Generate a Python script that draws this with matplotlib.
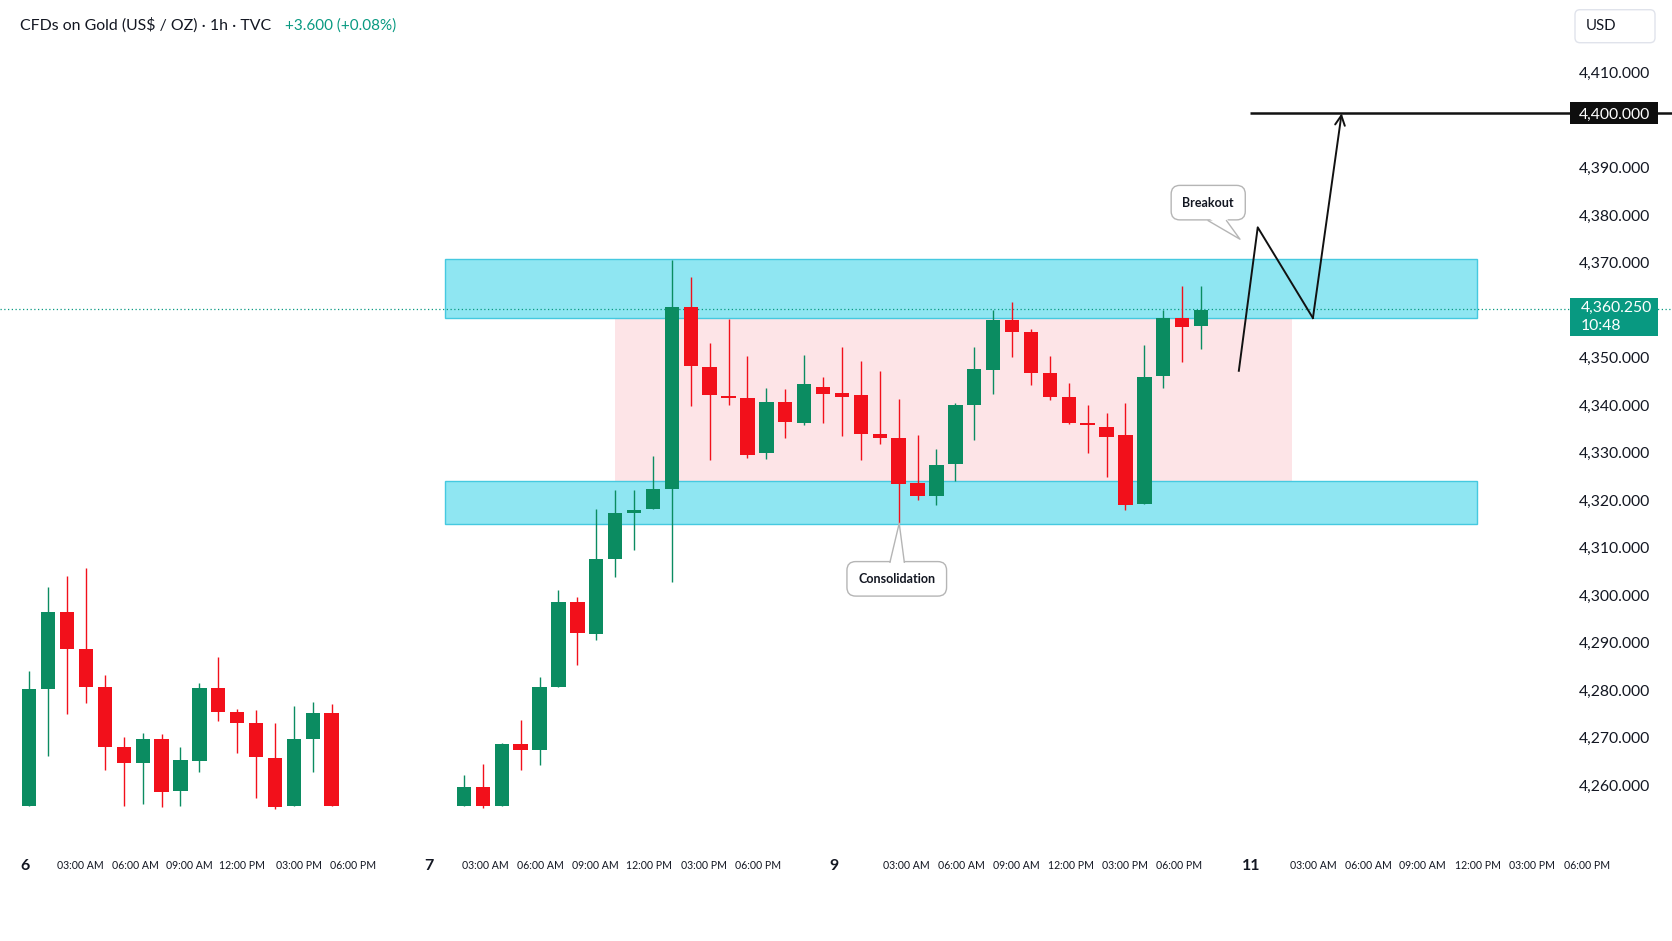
import matplotlib.pyplot as plt
from matplotlib.patches import Rectangle, Polygon, FancyBboxPatch
import matplotlib.transforms as mtransforms

plt.rcParams['font.family'] = ['Lato', 'DejaVu Sans']

# hourly candles (slot index on the time axis, one slot = 1 hour bar)
slots = list(range(0, 17)) + list(range(23, 63))
opens = [4255.6, 4280.2, 4296.5, 4288.6, 4280.7, 4268.0, 4264.6, 4269.7, 4258.7, 4265.1,
         4280.5, 4275.4, 4273.1, 4265.7, 4255.6, 4269.6, 4275.1,
         4255.6, 4259.5, 4255.6, 4268.6, 4267.4, 4280.7, 4298.6, 4291.8, 4307.6, 4317.3,
         4318.0, 4322.4, 4360.7, 4348.0, 4341.8, 4341.4, 4329.8, 4340.6, 4336.3, 4343.8,
         4342.5, 4342.0, 4333.8, 4333.0, 4323.6, 4320.8, 4327.6, 4340.0, 4347.4, 4357.9,
         4355.3, 4346.7, 4341.6, 4336.3, 4335.4, 4333.6, 4319.2, 4346.0, 4358.3, 4356.6]
highs = [4283.9, 4301.6, 4304.0, 4305.7, 4283.1, 4270.0, 4270.9, 4270.7, 4267.9, 4281.4,
         4286.9, 4275.9, 4275.8, 4273.1, 4276.6, 4277.5, 4277.1,
         4262.2, 4264.5, 4268.8, 4273.7, 4282.8, 4301.1, 4299.6, 4318.0, 4322.1, 4322.1,
         4329.3, 4370.5, 4367.0, 4353.1, 4358.2, 4350.4, 4343.5, 4343.3, 4350.5, 4345.8,
         4352.3, 4349.2, 4347.2, 4341.2, 4333.7, 4330.7, 4340.4, 4352.3, 4360.0, 4361.6,
         4356.1, 4350.4, 4344.6, 4339.9, 4338.3, 4340.5, 4352.6, 4360.1, 4365.1, 4365.0]
lows = [4255.6, 4266.0, 4275.0, 4277.2, 4263.2, 4255.6, 4255.9, 4255.3, 4255.6, 4262.8,
        4273.5, 4266.8, 4257.2, 4254.9, 4255.6, 4262.7, 4255.6,
        4255.6, 4255.2, 4255.6, 4263.2, 4264.3, 4280.7, 4285.2, 4290.6, 4303.7, 4309.5,
        4318.0, 4302.7, 4339.8, 4328.4, 4340.1, 4328.8, 4328.6, 4333.0, 4335.7, 4336.3,
        4333.5, 4328.4, 4331.8, 4315.1, 4320.1, 4319.0, 4324.1, 4332.6, 4342.3, 4350.0,
        4344.2, 4341.1, 4336.1, 4329.8, 4324.9, 4317.9, 4319.2, 4343.5, 4349.1, 4351.7]
closes = [4280.2, 4296.5, 4288.6, 4280.7, 4268.0, 4264.6, 4269.6, 4258.5, 4265.2, 4280.5,
          4275.4, 4273.1, 4265.9, 4255.4, 4269.6, 4275.1, 4255.6,
          4259.5, 4255.6, 4268.6, 4267.4, 4280.7, 4298.6, 4292.0, 4307.6, 4317.3, 4317.9,
          4322.4, 4360.7, 4348.2, 4342.0, 4341.4, 4329.4, 4340.6, 4336.4, 4344.4, 4342.4,
          4341.6, 4333.9, 4333.0, 4323.3, 4320.8, 4327.4, 4340.0, 4347.5, 4357.9, 4355.4,
          4346.8, 4341.6, 4336.3, 4335.7, 4333.2, 4319.0, 4345.8, 4358.3, 4356.5, 4360.1]

last_price = 4360.25
target_price = 4401.4
resistance_zone = (4358.4, 4370.7)
support_zone = (4315.0, 4324.0)
zone_span = (22.0, 76.6)
range_span = (31.0, 66.8)
path_x = [64.0, 65.0, 67.92, 69.44]
path_y = [4347.2, 4377.4, 4358.3, 4401.4]

y_ticks = [4260, 4270, 4280, 4290, 4300, 4310, 4320, 4330, 4340, 4350, 4370, 4380, 4390, 4410]
day_pos = [-0.25, 21.13, 42.57, 64.68]
day_labels = ['6', '7', '9', '11']
hour_labels = ['03:00 AM', '06:00 AM', '09:00 AM', '12:00 PM', '03:00 PM', '06:00 PM']
hour_pos = [[2.68, 5.61, 8.49, 11.26, 14.25, 17.13],
            [24.12, 27.05, 29.93, 32.81, 35.69, 38.56],
            [46.41, 49.34, 52.22, 55.10, 57.97, 60.85],
            [67.96, 70.84, 73.71, 76.65, 79.52, 82.45]]

GREEN = '#0b8c61'
RED = '#f2101b'
TEXT = '#131722'

fig = plt.figure(figsize=(16.72, 9.41), dpi=100)
ax = fig.add_axes([0, 101 / 941, 1, 840 / 941])
ax.set_xlim(-1.55, 86.92)
ax.set_ylim(4248.42, 4425.26)
for s in ax.spines.values():
    s.set_visible(False)

# zones
ax.add_patch(Rectangle((range_span[0], support_zone[1]), range_span[1] - range_span[0],
                       resistance_zone[0] - support_zone[1], fc='#fde4e7', ec='none', zorder=1))
for z in (resistance_zone, support_zone):
    ax.add_patch(Rectangle((zone_span[0], z[0]), zone_span[1] - zone_span[0], z[1] - z[0],
                           fc='#8fe6f2', ec='#45c9e0', lw=1.0, zorder=1.5))

# candles
cols = [GREEN if c >= o else RED for o, c in zip(opens, closes)]
bottoms = [min(o, c) for o, c in zip(opens, closes)]
heights = [max(abs(c - o), 0.35) for o, c in zip(opens, closes)]
ax.vlines(slots, lows, highs, colors=cols, lw=1.0, zorder=3)
ax.bar(slots, heights, bottom=bottoms, width=0.76, color=cols, lw=0, zorder=4)

# current price line
ax.axhline(last_price, color='#089981', ls=(0, (1, 2)), lw=0.9, zorder=2)

# projected path and target
ax.hlines(target_price, 64.59, 86.92, color='#111111', lw=1.8, zorder=5)
ax.plot(path_x[:-1], path_y[:-1], color='#111111', lw=1.4, zorder=5)
ax.annotate('', xy=(path_x[-1], path_y[-1]), xytext=(path_x[-2], path_y[-2]),
            arrowprops=dict(arrowstyle='->,head_length=0.7,head_width=0.35', lw=1.4,
                            color='#111111', shrinkA=0, shrinkB=0), zorder=5)


def callout(x, y, text, base, tip):
    ax.text(x, y, text, ha='center', va='center', fontsize=9, fontweight='bold', color=TEXT,
            zorder=7, bbox=dict(boxstyle='round,pad=0.9,rounding_size=0.7', fc='white',
                                ec='#b5b5b5', lw=1.0))
    (bx0, by0), (bx1, by1), dy = base
    ax.add_patch(Polygon([(bx0, by0 - dy), (tip[0], tip[1]), (bx1, by1 - dy)],
                         closed=True, fc='white', ec='none', zorder=8))
    ax.plot([bx0, tip[0], bx1], [by0, tip[1], by1], color='#b5b5b5', lw=1.0, zorder=8)


callout(45.9, 4303.4, 'Consolidation', ((45.54, 4306.9), (46.30, 4306.9), 0.6), (46.03, 4315.1))
callout(62.38, 4382.6, 'Breakout', ((62.38, 4378.8), (63.35, 4378.8), -0.6), (64.06, 4374.9))

# axes ticks
ax.yaxis.tick_right()
ax.set_yticks(y_ticks)
ax.set_yticklabels([f'{v:,.3f}' for v in y_ticks])
ax.tick_params(axis='y', length=0, pad=-15.8, labelsize=11.3, labelcolor=TEXT)
plt.setp(ax.get_yticklabels(), ha='right')

xt, xl = [], []
for d, dl, hp in zip(day_pos, day_labels, hour_pos):
    xt.append(d)
    xl.append(dl)
    xt += hp
    xl += hour_labels
ax.set_xticks(xt)
ax.set_xticklabels(xl)
ax.tick_params(axis='x', length=0, pad=18.5, labelsize=7.6, labelcolor=TEXT)
for lab in ax.get_xticklabels():
    lab.set_va('center')
    if lab.get_text() in day_labels:
        lab.set_fontsize(11.5)
        lab.set_fontweight('bold')

# price label boxes on the scale
blend = mtransforms.blended_transform_factory(ax.transAxes, ax.transData)
ax.add_patch(Rectangle((0.9388, target_price - 2.3), 0.0529, 4.6, transform=blend,
                       fc='#0e0e0e', ec='none', zorder=9, clip_on=False))
ax.text(0.9868, target_price - 0.3, '4,400.000', transform=blend, ha='right', va='center',
        fontsize=11.3, color='white', zorder=10)
ax.add_patch(Rectangle((0.9388, 4354.5), 0.0529, 8.1, transform=blend,
                       fc='#089981', ec='none', zorder=9, clip_on=False))
ax.text(0.9453, 4360.5, '4,360.250', transform=blend, ha='left', va='center',
        fontsize=11.3, color='white', zorder=10)
ax.text(0.9453, 4356.7, '10:48', transform=blend, ha='left', va='center',
        fontsize=11.3, color='white', zorder=10)

# header
fig.text(20.3 / 1672, 1 - 25.5 / 941, 'CFDs on Gold (US$ / OZ) · 1h · TVC', ha='left',
         va='center', fontsize=11.4, color=TEXT)
fig.text(284.7 / 1672, 1 - 25.5 / 941, '+3.600 (+0.08%)', ha='left', va='center',
         fontsize=11, color='#089981')
fig.patches.append(FancyBboxPatch((15.75, 9.41 - 0.427), 0.80, 0.33,
                                  boxstyle='round,pad=0,rounding_size=0.05',
                                  transform=fig.dpi_scale_trans, fc='white', ec='#e0e3eb',
                                  lw=1.0))
fig.text(1585.6 / 1672, 1 - 26 / 941, 'USD', ha='left', va='center', fontsize=10.8,
         color=TEXT)

fig.savefig('out.png', dpi=100)
